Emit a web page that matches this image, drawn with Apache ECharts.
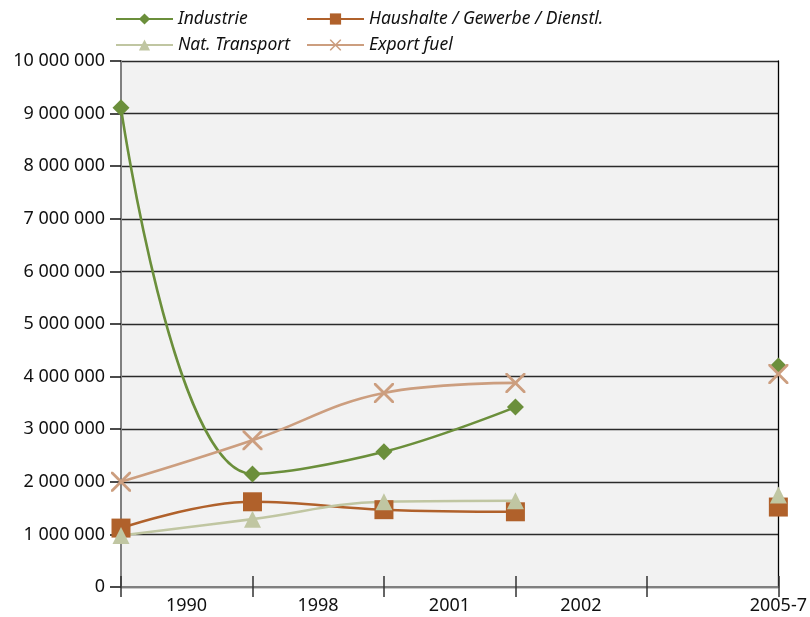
<!DOCTYPE html>
<html>
<head>
<meta charset="utf-8">
<script src="https://cdn.jsdelivr.net/npm/echarts@6/dist/echarts.min.js"></script>
<style>
  html, body { margin: 0; padding: 0; background: #ffffff; }
  #chart { width: 810px; height: 617px; }
</style>
</head>
<body>
<div id="chart"></div>
<script>
// Category slots along the x axis (slot 4 is an empty spacer before 2005-7)
const categories = ['1990', '1998', '2001', '2002', '', '2005-7'];

// Series values per slot (null = no data)
const industrie  = [9110000, 2150000, 2570000, 3420000, null, 4200000];
const haushalte  = [1120000, 1620000, 1470000, 1430000, null, 1520000];
const transport  = [ 980000, 1290000, 1620000, 1640000, null, 1750000];
const exportFuel = [2000000, 2790000, 3690000, 3880000, null, 4050000];

// Value-axis ticks
const yTicks = [0, 1000000, 2000000, 3000000, 4000000, 5000000, 6000000, 7000000, 8000000, 9000000, 10000000];

const names = ['Industrie', 'Haushalte / Gewerbe / Dienstl.', 'Nat. Transport', 'Export fuel'];
const colors = {
  ind: '#6b8f3b',
  hh: '#b0612b',
  tr: '#c0c6a2',
  ex: '#cc9e7f'
};

const crossPath = 'path://M0,0 L2,0 L10,8 L18,0 L20,0 L20,2 L12,10 L20,18 L20,20 L18,20 L10,12 L2,20 L0,20 L0,18 L8,10 L0,2 Z';

function fmt(v) {
  return String(v).replace(/\B(?=(\d{3})+(?!\d))/g, ' ');
}

const axisGray = '#808080';
const labelFont = { fontFamily: 'Noto Sans', fontSize: 18, color: '#111' };
const legendFont = { fontFamily: 'Noto Sans', fontStyle: 'italic', fontSize: 17.5, color: '#111' };

const chart = echarts.init(document.getElementById('chart'));

const baseLine = (name, data, color, symbol, size) => ({
  name: name,
  type: 'line',
  data: data,
  smooth: 0.4,
  connectNulls: false,
  showAllSymbol: true,
  symbol: symbol,
  symbolSize: size,
  lineStyle: { color: color, width: 2.6 },
  itemStyle: { color: color },
  emphasis: { disabled: true },
  z: 3
});

chart.setOption({
  animation: false,
  backgroundColor: '#ffffff',
  legend: [
    {
      data: [names[0], names[2]],
      orient: 'vertical',
      left: 110,
      top: 5,
      itemWidth: 57,
      itemHeight: 14,
      itemGap: 8,
      textStyle: legendFont
    },
    {
      data: [names[1], names[3]],
      orient: 'vertical',
      left: 301,
      top: 5,
      itemWidth: 57,
      itemHeight: 14,
      itemGap: 8,
      textStyle: legendFont
    }
  ],
  grid: {
    left: 121, right: 31, top: 61, bottom: 30,
    show: true,
    backgroundColor: '#f2f2f2',
    borderWidth: 0
  },
  xAxis: [
    {
      type: 'category',
      data: categories,
      boundaryGap: false,
      axisLine: { show: true, lineStyle: { color: axisGray, width: 2 } },
      axisTick: { show: true, inside: true, length: 11, interval: 0, lineStyle: { color: '#333', width: 1.5 } },
      axisLabel: {
        interval: 0,
        margin: 10,
        ...labelFont,
        formatter: function (v, i) {
          if (i < 4) return '{s|' + v + '}';
          return v;
        },
        rich: {
          s: { ...labelFont, padding: [0, 0, 0, 131] }
        }
      },
      splitLine: { show: false }
    },
    {
      type: 'category',
      data: categories,
      boundaryGap: false,
      position: 'bottom',
      axisLine: { show: false },
      axisTick: { show: true, inside: false, length: 10, interval: 0, lineStyle: { color: '#333', width: 1.5 } },
      axisLabel: { show: false },
      splitLine: { show: false }
    }
  ],
  yAxis: [
    {
      type: 'value',
      min: yTicks[0],
      max: yTicks[yTicks.length - 1],
      interval: yTicks[1] - yTicks[0],
      axisLine: { show: true, lineStyle: { color: axisGray, width: 2 } },
      axisTick: { show: true, inside: false, length: 11, lineStyle: { color: '#111', width: 1.5 } },
      axisLabel: { margin: 16, ...labelFont, formatter: fmt },
      splitLine: { show: true, lineStyle: { color: '#2a2a2a', width: 1.3 } }
    },
    {
      type: 'value',
      position: 'right',
      min: yTicks[0],
      max: yTicks[yTicks.length - 1],
      interval: yTicks[1] - yTicks[0],
      axisLine: { show: true, lineStyle: { color: '#000', width: 1.3 } },
      axisTick: { show: false },
      axisLabel: { show: false },
      splitLine: { show: false }
    }
  ],
  series: [
    baseLine(names[0], industrie, colors.ind, 'diamond', 17),
    baseLine(names[1], haushalte, colors.hh, 'rect', 19),
    baseLine(names[2], transport, colors.tr, 'triangle', 17),
    baseLine(names[3], exportFuel, colors.ex, crossPath, 20)
  ]
});
</script>
</body>
</html>
